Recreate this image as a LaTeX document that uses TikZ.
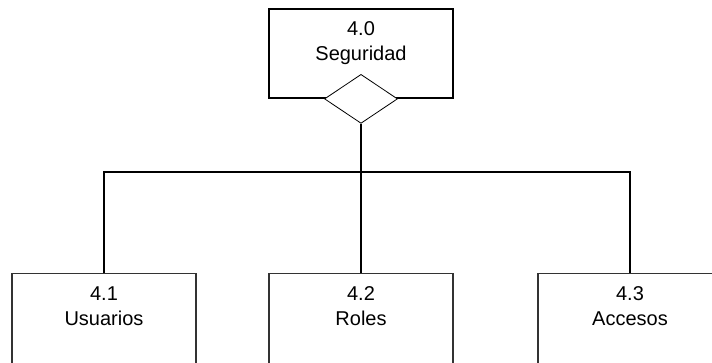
\documentclass[tikz,border=0pt]{standalone}
\usepackage{fontspec}
\setmainfont{Liberation Sans}
\usetikzlibrary{positioning,shapes.geometric}
\tikzset{
  % cajas de los modulos
  modbox/.style={draw=black!80,line width=.8pt,minimum width=138pt,minimum height=#1,inner sep=0pt,anchor=north},
  modtext/.style={align=center,inner sep=0pt,anchor=north,font=\fontsize{15}{19}\selectfont},
  link/.style={line width=1.5pt,black},
}
\begin{document}
\begin{tikzpicture}[x=.75pt,y=-.75pt]
\useasboundingbox (0,0) rectangle (712,363);
\clip (0,0) rectangle (712,363);

% modulo padre
\node[modbox=66.75pt,draw=black,line width=1.4pt] (seg) at (361,8) {};
\node[modtext] (segtxt) at (361,21) {4.0\\Seguridad};
\node[diamond,draw,fill=white,line width=.6pt,minimum width=54.75pt,minimum height=36.75pt,inner sep=0pt] (segrombo) at (seg.south) {};

% submodulos
\node[modbox=82.5pt] (usuarios) at (104,273) {};
\node[modbox=82.5pt] (roles) at (361,273) {};
\node[modbox=82.5pt] (accesos) at (630,273) {};
\node[modtext] (usuariostxt) at (104,286) {4.1\\Usuarios};
\node[modtext] (rolestxt) at (361,286) {4.2\\Roles};
\node[modtext] (accesostxt) at (630,286) {4.3\\Accesos};

\coordinate (bus) at (361,172);
\draw[link] (segrombo.south) -- (roles.north);
\draw[link] (usuarios.north) |- (bus) -| (accesos.north);

\end{tikzpicture}
\end{document}
